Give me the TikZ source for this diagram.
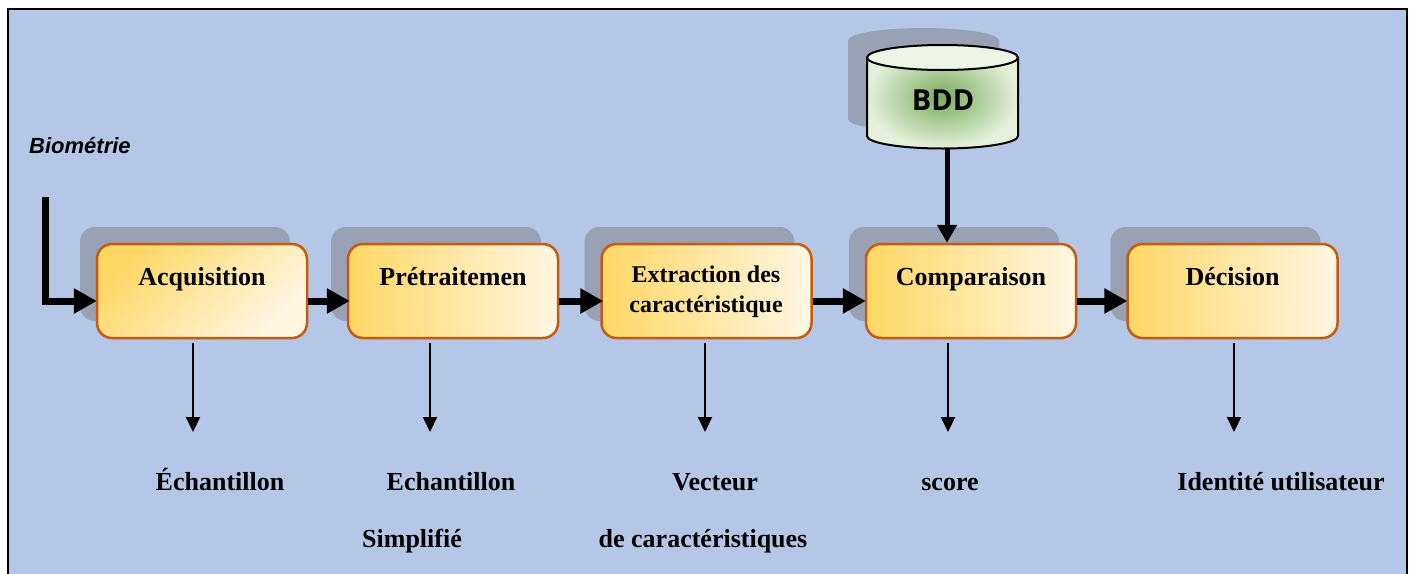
\documentclass[tikz,border=0pt]{standalone}
\usepackage{fontspec}
\setmainfont{Liberation Serif}
\newfontfamily\labelsans{Liberation Sans}
\newfontfamily\dbfont{Open Sans}
\usetikzlibrary{arrows.meta,shadows}

\definecolor{panel}{RGB}{180,199,231}
\definecolor{shadowgrey}{RGB}{152,162,180}
\definecolor{rim}{RGB}{197,90,17}
\definecolor{goldL}{RGB}{255,215,100}
\definecolor{goldR}{RGB}{255,247,228}
\definecolor{dbIn}{RGB}{120,172,92}
\definecolor{dbOut}{RGB}{228,240,218}
\definecolor{dbTop}{RGB}{238,245,231}

\begin{document}
\begin{tikzpicture}[x=1pt,y=-1pt,
  stage/.style={rectangle, rounded corners=15pt, draw=rim, line width=2.5pt,
    minimum width=210pt, minimum height=94pt, inner sep=0pt,
    left color=goldL, right color=goldR,
    general shadow={fill=shadowgrey, opacity=1, shadow xshift=-17pt, shadow yshift=17pt}},
  stagetext/.style={font=\fontsize{26}{30}\selectfont\bfseries, inner sep=0pt},
  outtext/.style={font=\fontsize{26}{30}\selectfont\bfseries, inner sep=0pt, anchor=base},
  flow/.style={line width=7pt, -{Triangle[length=23pt,width=24pt]}},
  dbflow/.style={line width=5pt, -{Triangle[length=18pt,width=19pt]}},
  outflow/.style={line width=2pt, -{Triangle[length=15pt,width=14pt]}},
]
\useasboundingbox (0,0) rectangle (1415,573);

% panel
\draw[line width=2.5pt, fill=panel] (8,9) rectangle (1407,590);

% stages
\node[stage, top color=goldL, bottom color=goldR, shading angle=45] (acq) at (202,291) {};
\node[stage] (pre) at (453,291) {};
\node[stage] (ext) at (706.5,291) {};
\node[stage] (cmp) at (971,291) {};
\node[stage] (dec) at (1232.5,291) {};

\node[stagetext, anchor=base] (acq-t) at ([yshift=6pt]acq.center) {Acquisition};
\node[stagetext, anchor=base] (pre-t) at ([yshift=6pt]pre.center) {Prétraitemen};
\node[stagetext, font=\fontsize{24}{30}\selectfont\bfseries, align=center] (ext-t) at (706,292) {Extraction des\\caractéristique};
\node[stagetext, anchor=base] (cmp-t) at ([yshift=6pt]cmp.center) {Comparaison};
\node[stagetext, anchor=base] (dec-t) at ([yshift=6pt]dec.center) {Décision};

% database cylinder (shadow, body, lid)
\fill[shadowgrey] (848,40.5) -- (848,119) arc[start angle=180, end angle=0, x radius=75.5, y radius=12.5]
  -- (999,40.5) arc[start angle=0, end angle=-180, x radius=75.5, y radius=12.5] -- cycle;
\path[shading=radial, inner color=dbIn, outer color=dbOut]
  (867,57.5) -- (867,136) arc[start angle=180, end angle=0, x radius=75.5, y radius=12.5]
  -- (1018,57.5) arc[start angle=0, end angle=-180, x radius=75.5, y radius=12.5] -- cycle;
\draw[line width=2pt] (867,57.5) -- (867,136) arc[start angle=180, end angle=0, x radius=75.5, y radius=12.5]
  -- (1018,57.5);
\draw[line width=2pt, fill=dbTop] (942.5,57.5) ellipse[x radius=75.5, y radius=12.5];
\node[inner sep=0pt, font=\dbfont\fontsize{29}{32}\selectfont\bfseries] (bdd) at (943,100) {BDD};
\coordinate (bddbot) at (947,149);

% input
\node[inner sep=0pt, anchor=west, font=\labelsans\fontsize{22}{26}\selectfont\bfseries\itshape] (bio) at (29,146) {Biométrie};
\coordinate (in) at (45,197);

% main flow
\draw[flow] (in) |- ([xshift=1pt]acq.west |- 0,301);
\draw[flow] (acq.east |- 0,301) -- ([xshift=3pt]pre.west |- 0,301);
\draw[flow] (pre.east |- 0,301) -- ([xshift=3pt]ext.west |- 0,301);
\draw[flow] (ext.east |- 0,301) -- ([xshift=1pt]cmp.west |- 0,301);
\draw[flow] (cmp.east |- 0,301) -- ([xshift=1pt]dec.west |- 0,301);
\draw[dbflow] (bddbot) -- (bddbot |- cmp.north);

% outputs
\coordinate (o1) at (193,432);
\coordinate (o2) at (430,432);
\coordinate (o3) at (705,432);
\coordinate (o4) at (948,432);
\coordinate (o5) at (1234,432);
\draw[outflow] ([yshift=-4pt]acq.south -| o1) -- (o1);
\draw[outflow] ([yshift=-4pt]pre.south -| o2) -- (o2);
\draw[outflow] ([yshift=-4pt]ext.south -| o3) -- (o3);
\draw[outflow] ([yshift=-4pt]cmp.south -| o4) -- (o4);
\draw[outflow] ([yshift=-4pt]dec.south -| o5) -- (o5);

\node[outtext] (r1) at (220,490) {Échantillon};
\node[outtext] (r2) at (451,490) {Echantillon};
\node[outtext] (r2b) at (412,547) {Simplifié};
\node[outtext] (r3) at (715,490) {Vecteur};
\node[outtext] (r3b) at (703,547) {de caractéristiques};
\node[outtext] (r4) at (950,490) {score};
\node[outtext] (r5) at (1281,490) {Identité utilisateur};
\end{tikzpicture}
\end{document}
